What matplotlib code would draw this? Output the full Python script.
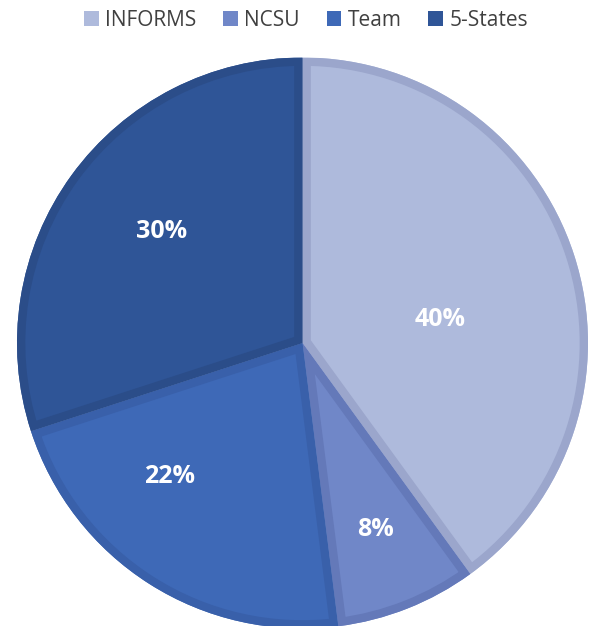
import numpy as np
import matplotlib.pyplot as plt
from matplotlib.patches import Patch, PathPatch

labels = ['INFORMS', 'NCSU', 'Team', '5-States']
shares = [40, 8, 22, 30]
fill_colors = ['#AEBADC', '#7087C8', '#3E69B7', '#2F5597']
edge_colors = ['#9BA6CC', '#6479B9', '#3960AA', '#2B4D89']
# label placement (radius fraction, angle in degrees) - mimics Excel "best fit"
label_r = [0.49, 0.70, 0.66, 0.63]
label_ang = [9.5, -68.6, -134.7, 141.7]

plt.rcParams['font.family'] = ['Open Sans', 'DejaVu Sans']

W, H = 589, 626
fig = plt.figure(figsize=(W / 100, H / 100), dpi=100)
cx, cy, R = 302.5, 626 - 343, 285.5
ax = fig.add_axes([(cx - R) / W, (cy - R) / H, 2 * R / W, 2 * R / H])

wedges, _ = ax.pie(shares, colors=fill_colors, startangle=90, counterclock=False,
                   radius=1, wedgeprops=dict(linewidth=0))
# pie() resets the limits, so set them afterwards
ax.set_xlim(-1, 1)
ax.set_ylim(-1, 1)
ax.set_aspect('equal')
ax.axis('off')

# inner border on each slice: stroke the wedge outline and clip it to the wedge
for w, ec in zip(wedges, edge_colors):
    w.set_clip_on(False)
    border = PathPatch(w.get_path(), facecolor='none', edgecolor=ec,
                       linewidth=12, transform=w.get_transform())
    ax.add_patch(border)
    border.set_clip_path(w)

for s, r, a in zip(shares, label_r, label_ang):
    t = np.deg2rad(a)
    ax.text(r * np.cos(t), r * np.sin(t), f'{s}%', ha='center', va='center',
            color='white', fontsize=18, fontweight='bold')

handles = [Patch(facecolor=c, edgecolor='none') for c in fill_colors]
fig.legend(handles, labels, loc='center', bbox_to_anchor=(306 / W, 1 - 20 / H),
           ncol=4, frameon=False, fontsize=15, handlelength=0.7, handleheight=0.7,
           handletextpad=0.3, columnspacing=1.3, labelcolor='#404040')

fig.savefig('out.png', dpi=100)
